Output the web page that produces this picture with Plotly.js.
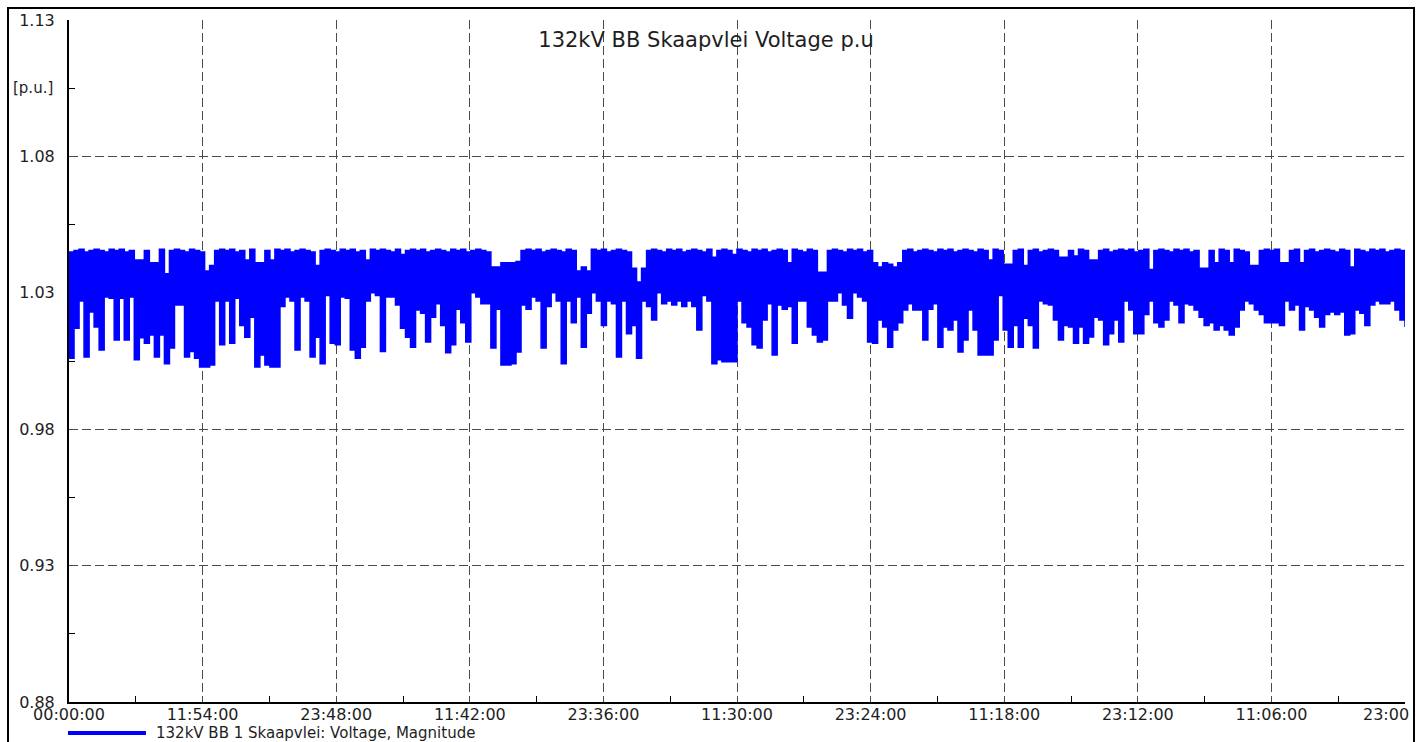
<!DOCTYPE html>
<html>
<head>
<meta charset="utf-8">
<script src="https://cdn.plot.ly/plotly-3.0.1.min.js"></script>
<style>
  html, body { margin: 0; padding: 0; background: #fff; overflow: hidden; }
  #wrap { position: relative; width: 1418px; height: 742px; }
  #chart { position: absolute; left: 0; top: 0; width: 1418px; height: 742px; }
  #frame { position: absolute; left: 7px; top: 7px; width: 1404px; height: 760px;
           border: 2px solid #000; border-bottom: none; pointer-events: none; }
</style>
</head>
<body>
<div id="wrap">
  <div id="chart"></div>
  <div id="frame"></div>
</div>
<script>
// ---- Data (p.u. voltage, 132kV BB Skaapvlei) ----
const totalMinutes = 7140; // 00:00:00 .. 23:00 (10 x 11h54m)

// x-axis tick positions (minutes) and labels
const tickMinutes = [0, 714, 1428, 2142, 2856, 3570, 4284, 4998, 5712, 6426, 7140];
const tickLabels = ['00:00:00', '11:54:00', '23:48:00', '11:42:00', '23:36:00',
                    '11:30:00', '23:24:00', '11:18:00', '23:12:00', '11:06:00', ''];
const minorTickMinutes = [357, 1071, 1785, 2499, 3213, 3927, 4641, 5355, 6069, 6783];

// y-axis ticks
const yTickVals = [0.88, 0.93, 0.98, 1.03, 1.08, 1.13];
const yTickText = ['0.88', '0.93', '0.98', '1.03', '1.08', '1.13'];
const yMinorVals = [0.905, 0.955, 1.005, 1.055, 1.105];

// upper envelope of the voltage trace in each sampling interval
const voltageMax = [
  1.045, 1.0455, 1.046, 1.045, 1.0455, 1.046, 1.0455, 1.045, 1.046, 1.0455,
  1.046, 1.045, 1.0455, 1.042, 1.042, 1.0455, 1.041, 1.041, 1.046, 1.037,
  1.0455, 1.046, 1.0455, 1.045, 1.046, 1.0455, 1.045, 1.038, 1.040, 1.0455,
  1.046, 1.0455, 1.046, 1.045, 1.0455, 1.042, 1.046, 1.041, 1.041, 1.0455,
  1.042, 1.046, 1.0455, 1.046, 1.045, 1.0455, 1.046, 1.0455, 1.045, 1.040,
  1.0455, 1.046, 1.0455, 1.045, 1.046, 1.0455, 1.046, 1.045, 1.0455, 1.042,
  1.046, 1.0455, 1.046, 1.0455, 1.045, 1.046, 1.044, 1.0455, 1.046, 1.0455,
  1.046, 1.045, 1.0455, 1.046, 1.0455, 1.045, 1.046, 1.0455, 1.046, 1.045,
  1.0455, 1.046, 1.0455, 1.045, 1.0395, 1.0395, 1.041, 1.041, 1.041, 1.0415,
  1.0455, 1.046, 1.0455, 1.046, 1.045, 1.0455, 1.046, 1.0455, 1.045, 1.046,
  1.0455, 1.038, 1.0395, 1.038, 1.046, 1.0455, 1.046, 1.045, 1.0455, 1.046,
  1.0455, 1.045, 1.039, 1.034, 1.039, 1.0455, 1.046, 1.0455, 1.045, 1.046,
  1.0455, 1.046, 1.045, 1.0455, 1.046, 1.0455, 1.045, 1.046, 1.043, 1.0455,
  1.046, 1.0455, 1.044, 1.046, 1.0455, 1.045, 1.046, 1.0455, 1.046, 1.045,
  1.0455, 1.046, 1.0455, 1.041, 1.046, 1.0455, 1.045, 1.046, 1.0455, 1.0375,
  1.0375, 1.0455, 1.046, 1.0455, 1.045, 1.046, 1.0455, 1.046, 1.045, 1.0455,
  1.041, 1.0395, 1.041, 1.0405, 1.0395, 1.041, 1.0455, 1.046, 1.045, 1.0455,
  1.046, 1.0455, 1.045, 1.046, 1.0455, 1.046, 1.045, 1.0455, 1.046, 1.0455,
  1.045, 1.046, 1.0455, 1.042, 1.046, 1.0455, 1.0405, 1.0405, 1.0455, 1.046,
  1.040, 1.0455, 1.046, 1.045, 1.0455, 1.046, 1.0455, 1.043, 1.043, 1.0455,
  1.0435, 1.046, 1.0455, 1.042, 1.042, 1.0455, 1.046, 1.045, 1.0455, 1.046,
  1.0455, 1.046, 1.045, 1.0455, 1.046, 1.0385, 1.0455, 1.046, 1.0455, 1.045,
  1.046, 1.0455, 1.046, 1.045, 1.0455, 1.039, 1.039, 1.0455, 1.041, 1.046,
  1.0455, 1.041, 1.046, 1.0455, 1.045, 1.040, 1.040, 1.0455, 1.046, 1.0455,
  1.046, 1.041, 1.041, 1.0455, 1.046, 1.041, 1.0455, 1.046, 1.045, 1.0455,
  1.046, 1.0455, 1.045, 1.046, 1.0455, 1.0395, 1.046, 1.0455, 1.045, 1.046,
  1.0455, 1.046, 1.045, 1.0455, 1.046, 1.0455, 1.041
];

// lower envelope (dips) of the voltage trace in each sampling interval
const voltageMin = [
  1.006, 1.017, 1.027, 1.0065, 1.023, 1.0175, 1.009, 1.0285, 1.028, 1.0127,
  1.028, 1.0127, 1.0285, 1.0055, 1.0135, 1.0115, 1.0145, 1.0065, 1.0145, 1.004,
  1.0098, 1.0255, 1.0255, 1.0065, 1.0085, 1.006, 1.0028, 1.0028, 1.0035, 1.027,
  1.011, 1.027, 1.0115, 1.028, 1.018, 1.0137, 1.021, 1.0028, 1.0072, 1.0035,
  1.0028, 1.0028, 1.025, 1.0285, 1.027, 1.009, 1.0285, 1.027, 1.0065, 1.0137,
  1.004, 1.029, 1.0115, 1.011, 1.0285, 1.028, 1.009, 1.006, 1.010, 1.027,
  1.030, 1.029, 1.0085, 1.0285, 1.0285, 1.0255, 1.017, 1.0137, 1.010, 1.0237,
  1.0225, 1.012, 1.021, 1.026, 1.018, 1.008, 1.011, 1.024, 1.019, 1.012,
  1.030, 1.0285, 1.026, 1.026, 1.0098, 1.024, 1.0035, 1.0035, 1.004, 1.0083,
  1.0255, 1.024, 1.0285, 1.027, 1.0098, 1.025, 1.030, 1.027, 1.004, 1.027,
  1.019, 1.0285, 1.010, 1.0225, 1.030, 1.027, 1.018, 1.027, 1.026, 1.0065,
  1.027, 1.015, 1.018, 1.006, 1.027, 1.025, 1.020, 1.030, 1.026, 1.027,
  1.0255, 1.027, 1.025, 1.027, 1.025, 1.0164, 1.029, 1.027, 1.004, 1.0055,
  1.0047, 1.0047, 1.0047, 1.027, 1.019, 1.0175, 1.011, 1.0098, 1.020, 1.026,
  1.0072, 1.0255, 1.024, 1.025, 1.0115, 1.027, 1.027, 1.0175, 1.0145, 1.012,
  1.0127, 1.027, 1.027, 1.030, 1.0255, 1.0207, 1.030, 1.0285, 1.027, 1.012,
  1.0115, 1.020, 1.0175, 1.010, 1.0164, 1.019, 1.0237, 1.026, 1.0237, 1.0237,
  1.0127, 1.024, 1.026, 1.010, 1.0175, 1.0164, 1.020, 1.0083, 1.0127, 1.0237,
  1.0164, 1.0072, 1.0072, 1.0072, 1.0127, 1.029, 1.0164, 1.010, 1.018, 1.010,
  1.0207, 1.018, 1.0098, 1.027, 1.026, 1.0255, 1.020, 1.0127, 1.018, 1.0175,
  1.0115, 1.0175, 1.0115, 1.0138, 1.021, 1.020, 1.011, 1.015, 1.020, 1.012,
  1.027, 1.0237, 1.015, 1.015, 1.022, 1.027, 1.019, 1.0175, 1.020, 1.027,
  1.0255, 1.019, 1.026, 1.0255, 1.0237, 1.021, 1.018, 1.019, 1.0164, 1.018,
  1.0164, 1.0145, 1.0175, 1.0237, 1.027, 1.026, 1.0237, 1.022, 1.019, 1.019,
  1.019, 1.018, 1.027, 1.0237, 1.0255, 1.0164, 1.025, 1.0237, 1.021, 1.0175,
  1.022, 1.023, 1.022, 1.023, 1.0145, 1.015, 1.0237, 1.0225, 1.018, 1.0255,
  1.027, 1.026, 1.026, 1.027, 1.0237, 1.020, 1.0175
];

// sample times (minutes) — evenly spaced over the record
const sampleStep = totalMinutes / (voltageMax.length - 1);
const sampleMinutes = voltageMax.map((_, i) => i * sampleStep);

const BLUE = '#0000ff';
const FONT = 'DejaVu Sans, Arial, sans-serif';
const TXT = '#1e1e1e';

const traces = [
  {
    x: sampleMinutes, y: voltageMin, type: 'scatter', mode: 'lines',
    line: { color: BLUE, width: 1.5, shape: 'hv' },
    showlegend: false, hoverinfo: 'skip'
  },
  {
    x: sampleMinutes, y: voltageMax, type: 'scatter', mode: 'lines',
    line: { color: BLUE, width: 1.5, shape: 'hv' },
    fill: 'tonexty', fillcolor: BLUE,
    name: '132kV BB 1 Skaapvlei: Voltage, Magnitude',
    showlegend: false, hoverinfo: 'skip'
  }
];

// helpers for placing decorations in paper coordinates
const L = 69, R = 1405, T = 20, B = 702;
const px = v => (v - L) / (R - L);
const py = v => (B - v) / (B - T);

const layout = {
  width: 1418, height: 742,
  margin: { l: L, r: 1418 - R, t: T, b: 742 - B, pad: 0 },
  paper_bgcolor: '#ffffff', plot_bgcolor: '#ffffff',
  font: { family: FONT, size: 16, color: TXT },
  title: {
    text: '132kV BB Skaapvlei Voltage p.u',
    font: { family: FONT, size: 21, color: TXT },
    xref: 'paper', x: px(706), xanchor: 'center',
    yref: 'container', y: 1 - 40 / 742, yanchor: 'middle'
  },
  showlegend: false,
  xaxis: {
    range: [0, totalMinutes],
    tickmode: 'array', tickvals: tickMinutes, ticktext: tickLabels,
    ticks: '', showline: true, linecolor: '#000', linewidth: 2, mirror: false,
    showgrid: true, gridcolor: '#4a4a4a', gridwidth: 1, griddash: '9px,4px',
    zeroline: false, tickfont: { family: FONT, size: 16, color: TXT },
    ticklabelstandoff: -3,
    minor: { tickmode: 'array', tickvals: minorTickMinutes, ticks: 'inside',
             ticklen: 6, tickwidth: 1, tickcolor: '#000', showgrid: false }
  },
  yaxis: {
    range: [0.88, 1.13],
    tickmode: 'array', tickvals: yTickVals, ticktext: yTickText,
    ticks: '', showline: true, linecolor: '#000', linewidth: 2, mirror: false,
    showgrid: true, gridcolor: '#4a4a4a', gridwidth: 1, griddash: '9px,4px',
    zeroline: false, tickfont: { family: FONT, size: 16, color: TXT },
    ticklabelstandoff: 9,
    minor: { tickmode: 'array', tickvals: yMinorVals, ticks: 'inside',
             ticklen: 6, tickwidth: 1, tickcolor: '#000', showgrid: false }
  },
  annotations: [
    { text: '[p.u.]', xref: 'paper', yref: 'paper', x: px(33), y: py(88),
      xanchor: 'center', yanchor: 'middle', showarrow: false,
      font: { family: FONT, size: 15, color: TXT } },
    { text: '23:00', xref: 'paper', yref: 'paper', x: px(1411), y: py(714),
      xanchor: 'right', yanchor: 'middle', showarrow: false,
      font: { family: FONT, size: 16, color: TXT } },
    { text: '132kV BB 1 Skaapvlei: Voltage, Magnitude', xref: 'paper', yref: 'paper',
      x: px(154), y: py(733), xanchor: 'left', yanchor: 'middle', showarrow: false,
      font: { family: FONT, size: 15, color: TXT } }
  ],
  shapes: [
    { type: 'line', xref: 'paper', yref: 'paper',
      x0: px(68), x1: px(146), y0: py(733), y1: py(733),
      line: { color: BLUE, width: 4 } }
  ]
};

Plotly.newPlot('chart', traces, layout, { displayModeBar: false, staticPlot: true });
</script>
</body>
</html>
